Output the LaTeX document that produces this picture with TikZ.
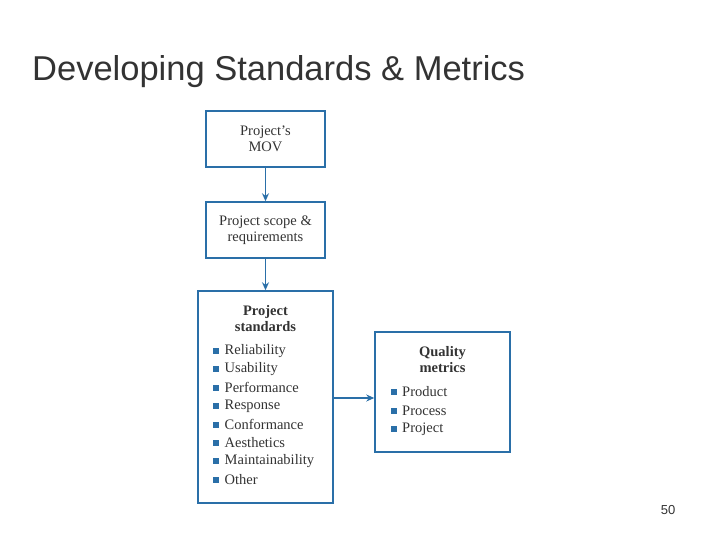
\documentclass[tikz,border=0pt]{standalone}
\usepackage{fontspec}
\usetikzlibrary{arrows.meta}
\setmainfont{Liberation Serif}
\newfontfamily\titlefont{Liberation Sans}
\definecolor{bl}{HTML}{2A6FA8}
\definecolor{txt}{HTML}{333333}
\begin{document}
\begin{tikzpicture}[x=1pt,y=-1pt,
  box/.style={draw=bl,line width=1.5pt,inner sep=0pt},
  arr/.style={draw=bl,line width=1.3pt,-{Stealth[length=8pt,width=7pt]}},
  lbl/.style={font=\fontsize{14.5}{16}\selectfont,text=txt,align=center,inner sep=0pt},
  itm/.style={font=\fontsize{14.5}{16}\selectfont,text=txt,anchor=west,inner sep=0pt},
  blt/.style={fill=bl,minimum size=6pt,inner sep=0pt}]
\useasboundingbox (0,0) rectangle (720,540);
\node[anchor=west,font=\titlefont\fontsize{34.5}{38}\selectfont,text=txt,inner sep=0pt] (title) at (32,72) {Developing Standards \& Metrics};
\node[font=\titlefont\fontsize{13}{15}\selectfont,text=txt,inner sep=0pt] (pg) at (668,510) {50};
\node[box,minimum width=119pt,minimum height=56pt] (b1) at (265.5,139) {};
\node[lbl] at (b1) {Project's\\MOV};
\node[box,minimum width=119pt,minimum height=56pt] (b2) at (265.5,230) {};
\node[lbl] at (b2) {Project scope \&\\requirements};
\node[box,minimum width=135pt,minimum height=212pt] (b3) at (265.5,397) {};
\node[lbl,font=\fontsize{14.5}{16}\selectfont\bfseries] at (265.5,319) {Project\\standards};
\foreach \t [count=\i] in {Reliability,Usability,Performance,Response,Conformance,Aesthetics,Maintainability,Other}{
  \node[blt] (s\i) at (216,{351+(\i-1)*18.4}) {};
  \node[itm] (t\i) at (224.5,{351+(\i-1)*18.4}) {\t};
}
\node[box,minimum width=135pt,minimum height=120pt] (b4) at (442.5,392) {};
\node[lbl,font=\fontsize{14.5}{16}\selectfont\bfseries] at (442.5,360) {Quality\\metrics};
\foreach \t [count=\i] in {Product,Process,Project}{
  \node[blt] (q\i) at (393.5,{392+(\i-1)*18.5}) {};
  \node[itm] (r\i) at (402,{392+(\i-1)*18.5}) {\t};
}
\draw[arr] (b1) -- (b2);
\draw[arr] (b2) -- (b3);
\draw[arr] (b3.east|-0,398) -- (b4.west|-0,398);
\end{tikzpicture}
\end{document}
